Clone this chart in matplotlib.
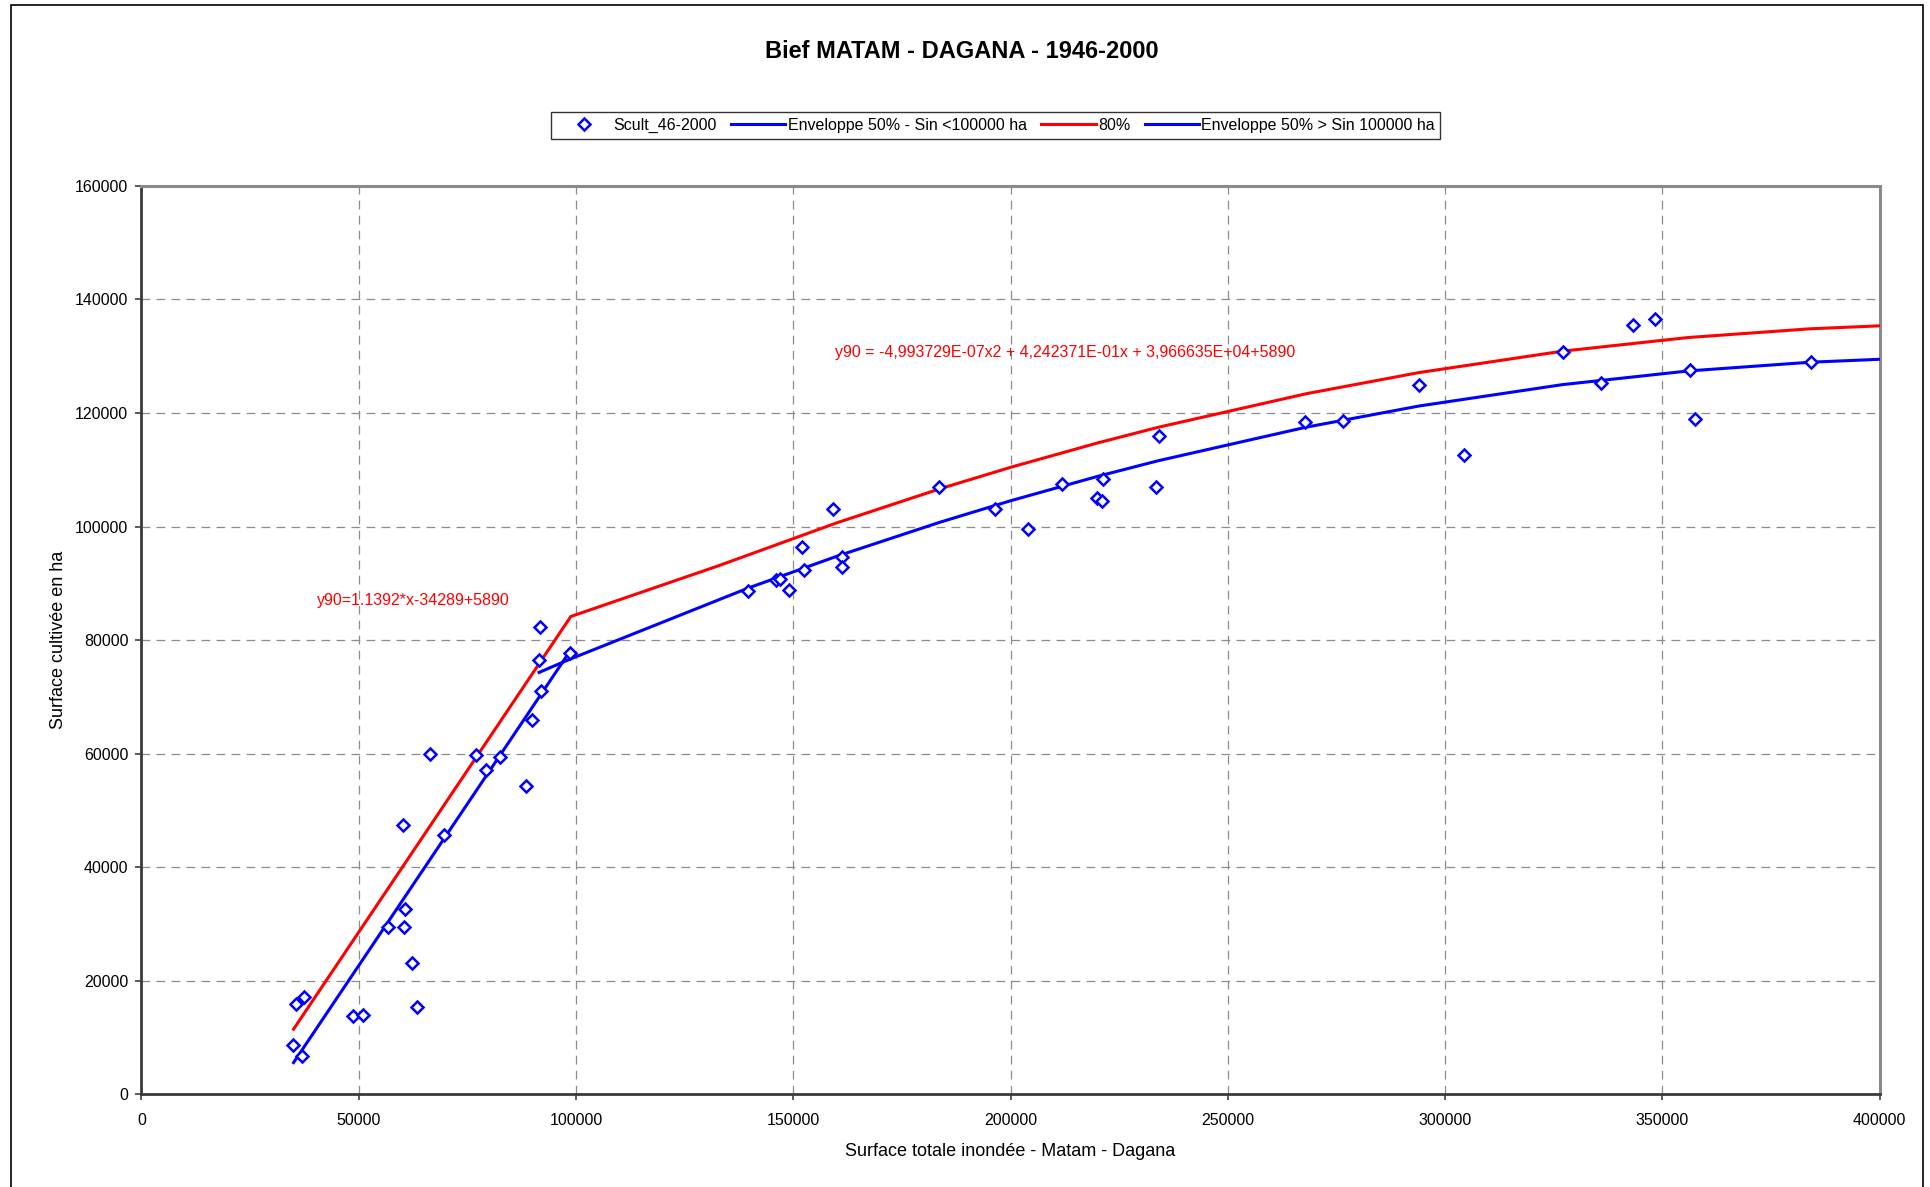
import matplotlib
matplotlib.use("Agg")
import matplotlib.pyplot as plt
from matplotlib.lines import Line2D
from matplotlib.patches import Rectangle

plt.rcParams["font.family"] = ["Liberation Sans", "DejaVu Sans"]

# observed years: flooded area (x) vs cultivated area (y), ha
flood_ha = [34946, 35561, 36866, 37327, 48694, 50922, 56759, 60215, 60522, 60599,
            62289, 63518, 66513, 69662, 77035, 79186, 82488, 88402, 89785, 91475,
            91628, 92013, 98618, 139555, 145930, 146928, 149078, 151997, 152534,
            159062, 161290, 161290, 183562, 196464, 203990, 211824, 219888, 221040,
            221194, 233558, 234277, 267706, 276488, 294053, 304252, 327039, 335840,
            343160, 348287, 356308, 357554, 384268]
cult_ha = [8638, 15982, 6817, 17049, 13723, 13974, 29517, 47445, 29391, 32593,
           23051, 15417, 59874, 45687, 59811, 57175, 59435, 54225, 66000, 76485,
           82260, 71086, 77740, 88669, 90548, 90841, 88845, 96360, 92309,
           103170, 94599, 92955, 107045, 103170, 99589, 107515, 105108, 104462,
           108337, 107045, 115988, 118373, 118590, 124927, 112551, 130792, 125307,
           135543, 136598, 127507, 118886, 128915]

# 50% envelope below 100000 ha
env_low_x = [35000, 98600]
env_low_y = [5583, 78036]

# 80% envelope (linear part then quadratic part)
env80_x = [35000, 98800, 133000, 160000, 183600, 200000, 220000, 234000,
           268000, 294000, 327000, 356000, 384000, 400000]
env80_y = [11473, 84154, 93147, 100650, 106613, 110429, 114718, 117484,
           123385, 127118, 130884, 133296, 134828, 135351]

# 50% envelope above 100000 ha
env_high_x = [91500, 98600, 139600, 160000, 183600, 200000, 220000, 234000,
              268000, 294000, 327000, 356000, 384000, 400000]
env_high_y = [74303, 76641, 89158, 94760, 100723, 104539, 108828, 111594,
              117495, 121228, 124994, 127406, 128938, 129461]

x_ticks = list(range(0, 400001, 50000))
y_ticks = list(range(0, 160001, 20000))

fig = plt.figure(figsize=(19.30, 11.87), dpi=100)
ax = fig.add_axes([0.0733, 0.0781, 0.9006, 0.7653])

ax.plot(env_low_x, env_low_y, color="#0000FF", lw=2.2, zorder=3)
ax.plot(env80_x, env80_y, color="#FF0000", lw=2.2, zorder=3)
ax.plot(env_high_x, env_high_y, color="#0000FF", lw=2.2, zorder=3)
ax.plot(flood_ha, cult_ha, ls="none", marker="D", ms=6.5, mew=1.8,
        mec="#0000FF", mfc="white", zorder=4)

ax.set_xlim(0, 400000)
ax.set_ylim(0, 160000)
ax.set_xticks(x_ticks)
ax.set_yticks(y_ticks)
ax.tick_params(axis="both", direction="out", length=4.5, width=1.2,
               color="#404040", labelsize=11.5)
ax.tick_params(axis="x", pad=9)
ax.tick_params(axis="y", pad=5)
ax.grid(True, color="#8C8C8C", lw=0.9, ls=(0, (7, 5)))
ax.set_axisbelow(True)

for side in ("left", "bottom"):
    ax.spines[side].set_color("#3A3A3A")
    ax.spines[side].set_linewidth(2.0)
for side in ("top", "right"):
    ax.spines[side].set_color("#8A8A8A")
    ax.spines[side].set_linewidth(2.2)

ax.set_xlabel("Surface totale inondée - Matam - Dagana", fontsize=13, labelpad=11)
ax.set_ylabel("Surface cultivée en ha", fontsize=13, labelpad=6)

ax.text(40500, 87000, "y90=1.1392*x-34289+5890", color="#FF0000",
        fontsize=11.5, ha="left", va="center")
ax.text(159500, 130700,
        "y90 = -4,993729E-07x2 + 4,242371E-01x + 3,966635E+04+5890",
        color="#FF0000", fontsize=11.5, ha="left", va="center")

fig.text(0.4985, 1 - 52 / 1187, "Bief MATAM - DAGANA - 1946-2000",
         fontsize=17, fontweight="bold", ha="center", va="center")

handles = [
    Line2D([], [], ls="none", marker="D", ms=6.5, mew=1.8, mec="#0000FF", mfc="white"),
    Line2D([], [], color="#0000FF", lw=2.2),
    Line2D([], [], color="#FF0000", lw=2.2),
    Line2D([], [], color="#0000FF", lw=2.2),
]
labels = ["Scult_46-2000", "Enveloppe 50% - Sin <100000 ha", "80%",
          "Enveloppe 50% > Sin 100000 ha"]
leg = fig.legend(handles, labels, loc="center", bbox_to_anchor=(995.8 / 1930, 1 - 125.5 / 1187),
                 ncol=4, fontsize=11.5, frameon=True, fancybox=False,
                 edgecolor="black", borderpad=0.35, handlelength=3.4,
                 handletextpad=0.15, columnspacing=0.9)
leg.get_frame().set_linewidth(1.0)

# chart-area border
fig.patches.append(Rectangle((11 / 1930, -0.02), (1922.7 - 11) / 1930, 1.02 - 5 / 1187,
                             transform=fig.transFigure, fill=False,
                             edgecolor="black", lw=1.2))

fig.savefig("out.png", dpi=100, facecolor="white")
